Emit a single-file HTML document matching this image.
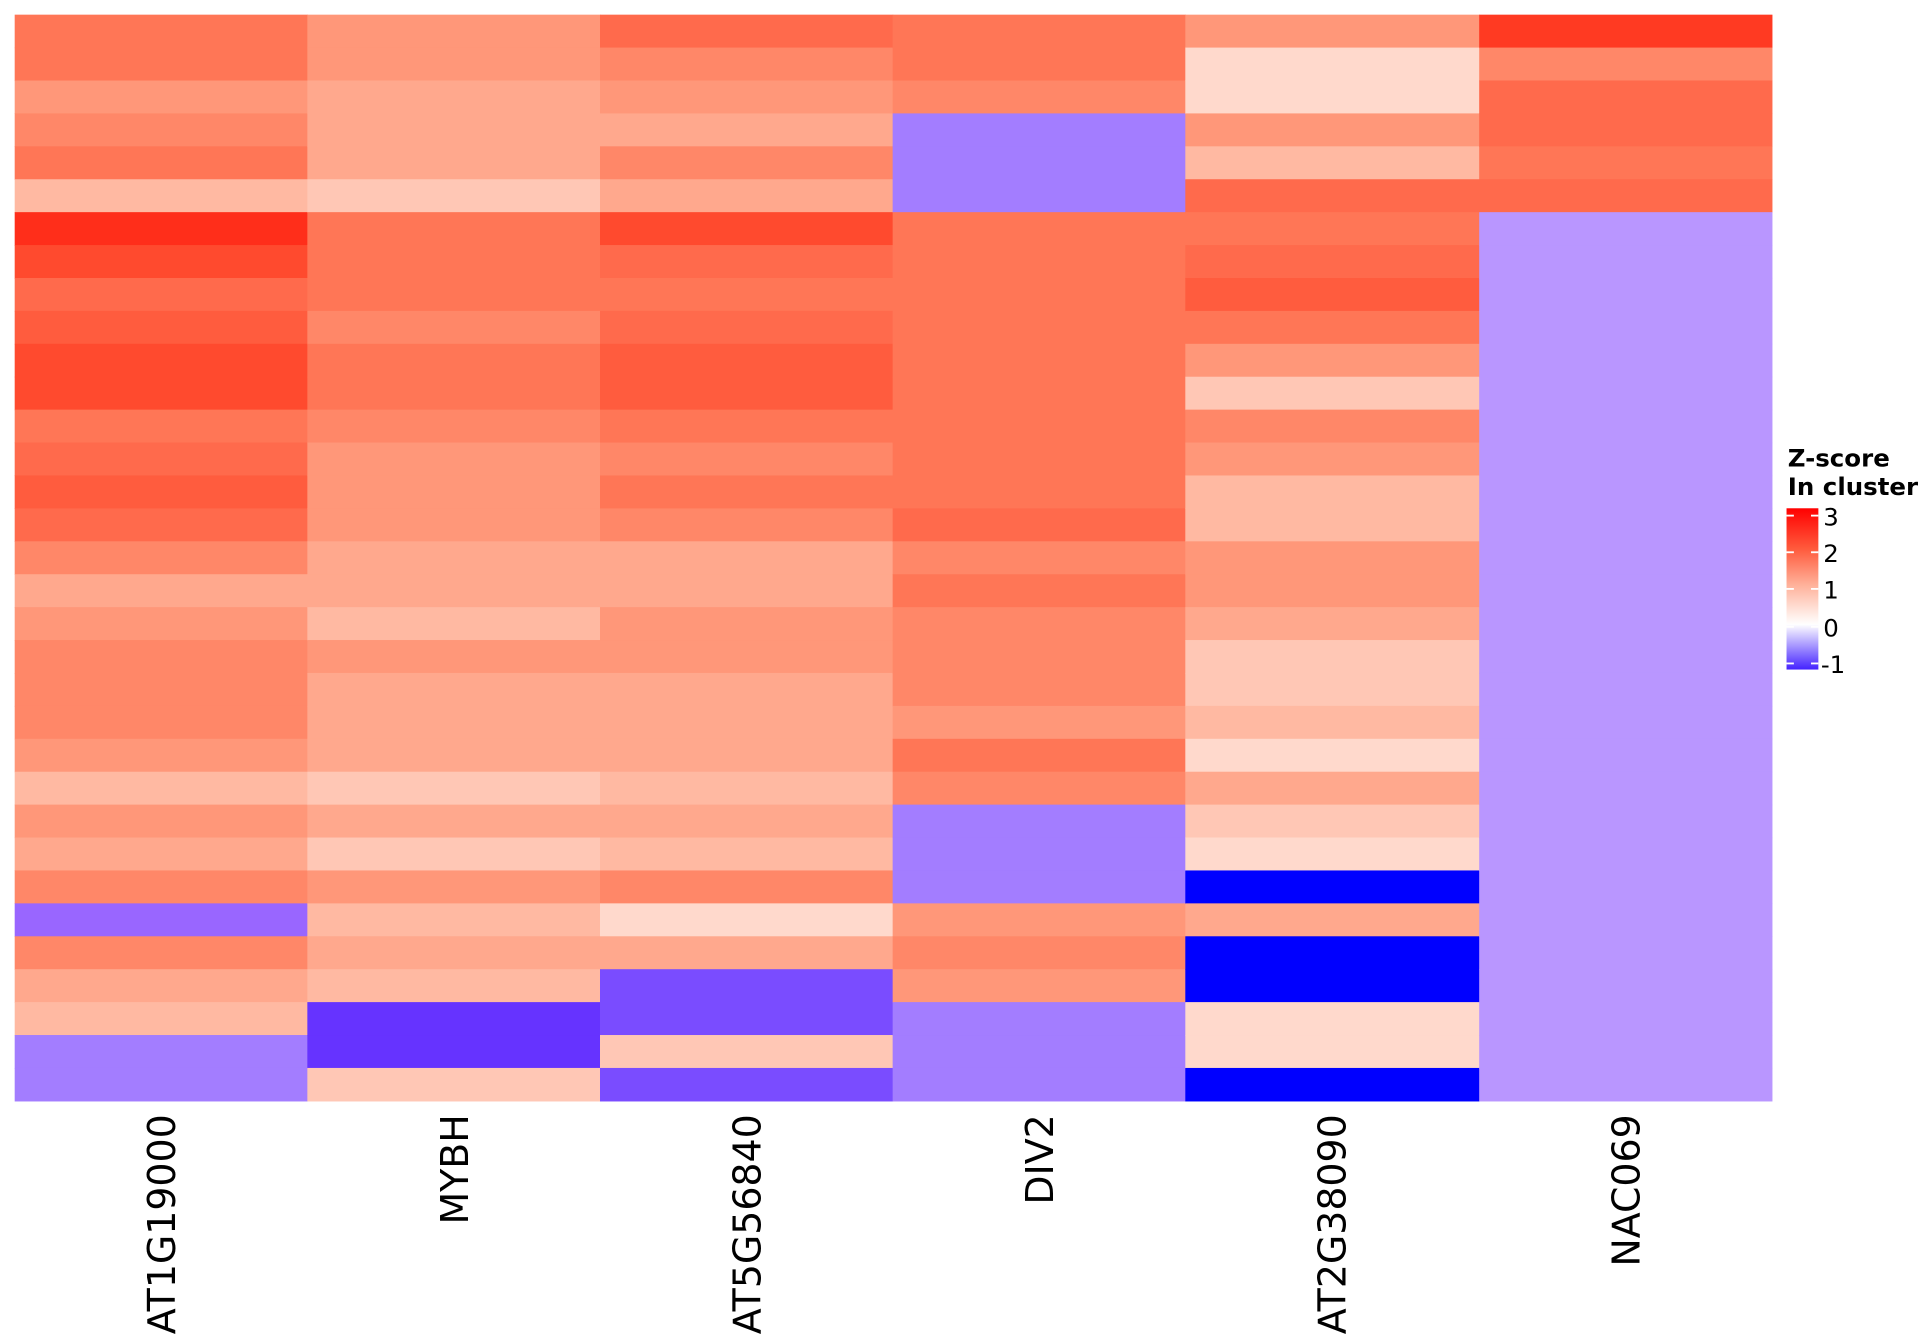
<!DOCTYPE html>
<html><head><meta charset="utf-8"><style>
html,body{margin:0;padding:0;background:#fff;width:1920px;height:1344px;overflow:hidden}
svg{display:block}
text{font-family:"DejaVu Sans","Liberation Sans",sans-serif}
</style></head><body>
<svg id="s" width="1920" height="1344" viewBox="0 0 1568 1100" preserveAspectRatio="none" xmlns="http://www.w3.org/2000/svg">
<defs><linearGradient id="g" x1="0" y1="0" x2="0" y2="1">
<stop offset="0" stop-color="#ff0000"/>
<stop offset="0.25" stop-color="#ff5a3c"/>
<stop offset="0.48" stop-color="#ffb39c"/>
<stop offset="0.72" stop-color="#ffffff"/>
<stop offset="1" stop-color="#4422ff"/>
</linearGradient></defs>
<g id="hm"></g>
<g font-size="31" fill="#000">
<text transform="translate(143,912) rotate(-90)" text-anchor="end">AT1G19000</text>
<text transform="translate(382,912) rotate(-90)" text-anchor="end">MYBH</text>
<text transform="translate(621,912) rotate(-90)" text-anchor="end">AT5G56840</text>
<text transform="translate(860,912) rotate(-90)" text-anchor="end">DIV2</text>
<text transform="translate(1099,912) rotate(-90)" text-anchor="end">AT2G38090</text>
<text transform="translate(1339,912) rotate(-90)" text-anchor="end">NAC069</text>
</g>
<text x="1460" y="382" font-size="20" font-weight="bold">Z-score</text>
<text x="1460" y="405" font-size="20" font-weight="bold">In cluster</text>
<rect x="1459" y="416" width="26" height="132" fill="url(#g)"/>
<g stroke="#fff" stroke-width="1.5">
<line x1="1459" y1="422" x2="1465" y2="422"/><line x1="1479" y1="422" x2="1485" y2="422"/>
<line x1="1459" y1="452" x2="1465" y2="452"/><line x1="1479" y1="452" x2="1485" y2="452"/>
<line x1="1459" y1="482" x2="1465" y2="482"/><line x1="1479" y1="482" x2="1485" y2="482"/>
<line x1="1459" y1="513" x2="1465" y2="513"/><line x1="1479" y1="513" x2="1485" y2="513"/>
<line x1="1459" y1="543" x2="1465" y2="543"/><line x1="1479" y1="543" x2="1485" y2="543"/>
</g>
<g font-size="20">
<text x="1489" y="430">3</text><text x="1489" y="460">2</text><text x="1489" y="490">1</text><text x="1489" y="521">0</text><text x="1487" y="551">-1</text>
</g>
</svg>
<script>
var P={A:"#ff2e1a",B:"#ff4a2e",C:"#ff5c3e",D:"#ff6a4c",E:"#ff7656",F:"#ff8768",G:"#ff9779",H:"#ffa88d",I:"#ffb9a2",J:"#ffc7b5",K:"#ffd9cc",
Q:"#b996ff",R:"#a37dff",S:"#9966ff",T:"#7a4cff",U:"#6633ff",V:"#0000ff",Z:"#ff3a22"};
var cols=[
"EEGFEIABDCBBEDCDFHGFFFGIGHFSFHIRR",
"GGHHHJEEEFEEFGGGHHIGHHHJHJGIHIUUJ",
"DFGHFHBDEDCCEFEFHHGGHHHIHIFKHTTJT",
"EEFRRREEEEEEEEEDFEFFFGEFRRRGFGRRR",
"GKKGIDEDCEGJFGIIGGHJJIKHJKVHVVKKV",
"ZFDDEDQQQQQQQQQQQQQQQQQQQQQQQQQQQ"];
var xs=[12,251,490,729,968,1208,1447];
var h="";
for(var c=0;c<6;c++){for(var r=0;r<33;r++){var y0=12+r*(889/33),y1=12+(r+1)*(889/33);
h+='<rect x="'+xs[c]+'" y="'+y0.toFixed(2)+'" width="'+(xs[c+1]-xs[c]+0.5)+'" height="'+(y1-y0+0.5).toFixed(2)+'" fill="'+P[cols[c][r]]+'"/>';}}
document.getElementById("hm").innerHTML=h;
</script>
</body></html>
